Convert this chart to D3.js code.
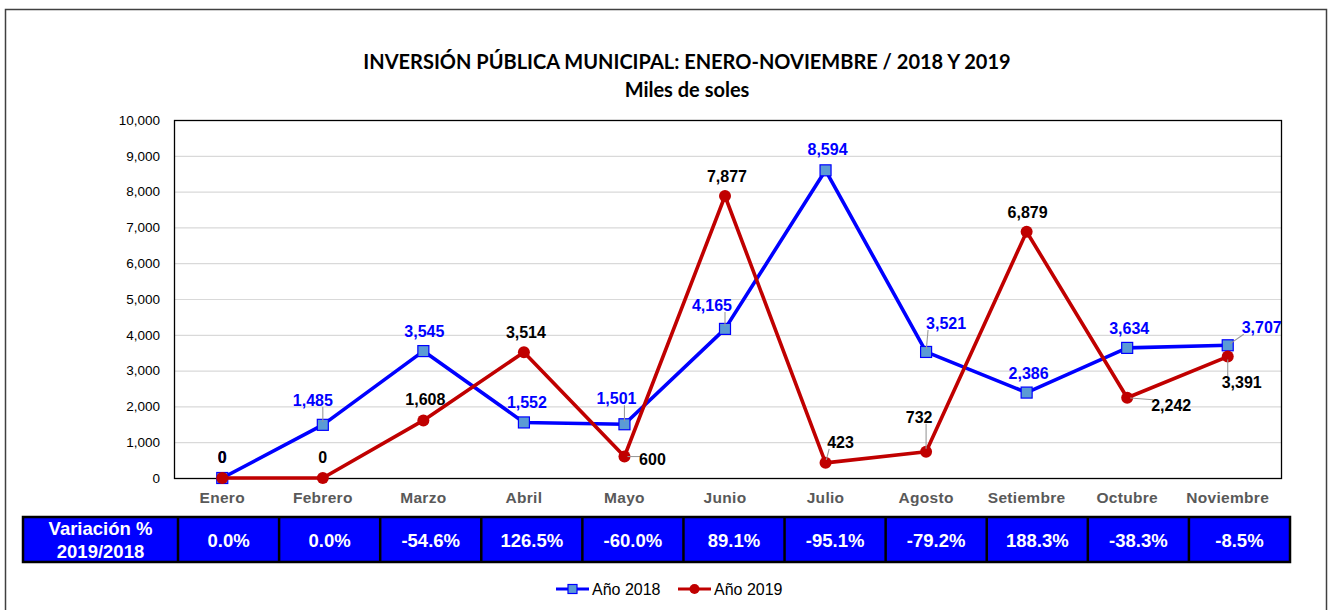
<!DOCTYPE html>
<html>
<head>
	<meta charset="UTF-8">
	<script src="https://d3js.org/d3.v7.min.js"></script>
	<title>Inversión pública municipal</title>
	<style>
		body { margin: 0; background: #fff; }
		svg { display: block; }
	</style>
</head>
<body>
	<svg></svg>
	<script type="text/javascript">

		const meses = ["Enero", "Febrero", "Marzo", "Abril", "Mayo", "Junio", "Julio", "Agosto", "Setiembre", "Octubre", "Noviembre"];
		const anio2018 = [0, 1485, 3545, 1552, 1501, 4165, 8594, 3521, 2386, 3634, 3707];
		const anio2019 = [0, 0, 1608, 3514, 600, 7877, 423, 732, 6879, 2242, 3391];
		const variacion = [0.0, 0.0, -54.6, 126.5, -60.0, 89.1, -95.1, -79.2, 188.3, -38.3, -8.5];
		const yTicks = [0, 1000, 2000, 3000, 4000, 5000, 6000, 7000, 8000, 9000, 10000];

		// label placement relative to its point: [dx, dy, leader line]
		const pos2018 = [[0, -15, 0], [-10, -19, 1], [1, -14, 0], [3, -14, 0], [-8, -20, 1], [-13, -18, 1],
			[2, -15, 0], [20, -23, 1], [2, -14, 0], [2, -14, 0], [34, -12, 1]];
		const pos2019 = [[0, -15, 0], [0, -15, 0], [2, -15, 0], [2, -14, 0], [28, 8, 1], [2, -14, 0],
			[15, -15, 1], [-7, -29, 1], [1, -14, 0], [44, 13, 1], [14, 31, 1]];

		const width = 1328;
		const height = 610;
		const plot = {left: 174, right: 1281, top: 120, bottom: 478};

		const azul = "#0000ff";
		const rojo = "#c00000";

		const svg = d3.select("svg")
			.attr("width", width)
			.attr("height", height)
			.attr("viewBox", [0, 0, width, height])
			.style("font-family", "'Liberation Sans', Arial, sans-serif");

		svg.append("rect")
			.attr("x", 5.5).attr("y", 9.5)
			.attr("width", 1321).attr("height", 640)
			.attr("fill", "none")
			.attr("stroke", "#404040")
			.attr("stroke-width", 1.5);

		svg.append("text")
			.attr("x", 687).attr("y", 69)
			.attr("text-anchor", "middle")
			.style("font-family", "Lato, sans-serif")
			.attr("font-weight", "bold")
			.attr("font-size", 20)
			.text("INVERSIÓN PÚBLICA MUNICIPAL: ENERO-NOVIEMBRE / 2018 Y 2019");

		svg.append("text")
			.attr("x", 687).attr("y", 97)
			.attr("text-anchor", "middle")
			.style("font-family", "Lato, sans-serif")
			.attr("font-weight", "bold")
			.attr("font-size", 20)
			.text("Miles de soles");

		const x = d3.scalePoint()
			.domain(meses)
			.range([plot.left - 2, plot.right - 3])
			.padding(0.5);

		const y = d3.scaleLinear()
			.domain([0, 10000])
			.range([plot.bottom, plot.top]);

		// grid
		svg.append("g")
			.selectAll("line")
			.data(yTicks.filter(d => d > 0 && d < 10000))
			.join("line")
				.attr("x1", plot.left).attr("x2", plot.right)
				.attr("y1", d => y(d) + 0.5).attr("y2", d => y(d) + 0.5)
				.attr("stroke", "#d9d9d9")
				.attr("stroke-width", 1.2);

		svg.append("rect")
			.attr("x", plot.left + 0.5).attr("y", plot.top + 0.5)
			.attr("width", plot.right - plot.left).attr("height", plot.bottom - plot.top)
			.attr("fill", "none")
			.attr("stroke", "#000")
			.attr("stroke-width", 1.3);

		svg.append("g")
			.attr("transform", `translate(${plot.left},0)`)
			.call(d3.axisLeft(y).tickValues(yTicks).tickFormat(d3.format(",")).tickSize(0).tickPadding(14))
			.call(g => g.select(".domain").remove())
			.call(g => g.selectAll("text")
				.attr("font-family", "'Liberation Sans', Arial, sans-serif")
				.attr("font-size", 13.5)
				.attr("fill", "#000"));

		svg.append("g")
			.selectAll("text")
			.data(meses)
			.join("text")
				.attr("x", d => x(d))
				.attr("y", 503)
				.attr("text-anchor", "middle")
				.attr("font-size", 15.5)
				.attr("font-weight", "bold")
				.attr("fill", "#595959")
				.attr("letter-spacing", 0.3)
				.text(d => d);

		const line = d3.line()
			.x((d, i) => x(meses[i]))
			.y(d => y(d));

		const series = [
			{name: "Año 2018", values: anio2018, color: azul, labelColor: azul, pos: pos2018, marker: "square"},
			{name: "Año 2019", values: anio2019, color: rojo, labelColor: "#000", pos: pos2019, marker: "circle"}
		];

		function drawMarker(g, s) {
			if (s.marker === "square") {
				g.append("rect")
					.attr("x", -5.5).attr("y", -5.5)
					.attr("width", 11).attr("height", 11)
					.attr("fill", "#5b9bd5")
					.attr("stroke", azul)
					.attr("stroke-width", 1.2);
			} else {
				g.append("circle")
					.attr("r", 6)
					.attr("fill", rojo);
			}
		}

		series.forEach(s => {
			const g = svg.append("g");
			g.append("path")
				.datum(s.values)
				.attr("fill", "none")
				.attr("stroke", s.color)
				.attr("stroke-width", 3.6)
				.attr("stroke-linejoin", "round")
				.attr("d", line);
			g.selectAll("g.mk")
				.data(s.values)
				.join("g")
					.attr("class", "mk")
					.attr("transform", (d, i) => `translate(${x(meses[i])},${y(d)})`)
					.each(function () { drawMarker(d3.select(this), s); });
		});

		// data labels with leader lines
		series.forEach(s => {
			const g = svg.append("g");
			s.values.forEach((v, i) => {
				const px = x(meses[i]);
				const py = y(v);
				const [dx, dy, lead] = s.pos[i];
				const t = g.append("text")
					.attr("x", px + dx)
					.attr("y", py + dy)
					.attr("text-anchor", "middle")
					.attr("font-size", 16)
					.attr("font-weight", "bold")
					.attr("fill", s.labelColor)
					.text(d3.format(",")(v));
				if (lead) {
					const b = t.node().getBBox();
					const bx = Math.max(b.x + 2, Math.min(px, b.x + b.width - 2));
					const by = Math.max(b.y + 3, Math.min(py, b.y + b.height - 2));
					const len = Math.hypot(bx - px, by - py);
					const sx = px + (bx - px) / len * 3;
					const sy = py + (by - py) / len * 3;
					g.insert("line", "text")
						.attr("x1", sx).attr("y1", sy)
						.attr("x2", bx).attr("y2", by)
						.attr("stroke", "#999")
						.attr("stroke-width", 1.1);
				}
			});
		});

		// variation table
		const tx = d3.scaleBand()
			.domain(meses)
			.range([178, 1290]);
		const tTop = 517;
		const tBottom = 562;

		const tabla = svg.append("g");
		tabla.append("rect")
			.attr("x", 23).attr("y", tTop)
			.attr("width", 1290 - 23).attr("height", tBottom - tTop)
			.attr("fill", azul)
			.attr("stroke", "#000")
			.attr("stroke-width", 2.5);

		tabla.selectAll("line")
			.data(meses)
			.join("line")
				.attr("x1", d => tx(d)).attr("x2", d => tx(d))
				.attr("y1", tTop).attr("y2", tBottom)
				.attr("stroke", "#000")
				.attr("stroke-width", 2.5);

		tabla.selectAll("text.val")
			.data(variacion)
			.join("text")
				.attr("class", "val")
				.attr("x", (d, i) => tx(meses[i]) + tx.bandwidth() / 2)
				.attr("y", 547)
				.attr("text-anchor", "middle")
				.attr("font-size", 18.5)
				.attr("font-weight", "bold")
				.attr("fill", "#fff")
				.text(d => d.toFixed(1) + "%");

		tabla.append("text")
			.attr("x", 100.5).attr("y", 535)
			.attr("text-anchor", "middle")
			.attr("font-size", 18.5)
			.attr("font-weight", "bold")
			.attr("fill", "#fff")
			.text("Variación %");
		tabla.append("text")
			.attr("x", 100.5).attr("y", 558)
			.attr("text-anchor", "middle")
			.attr("font-size", 18.5)
			.attr("font-weight", "bold")
			.attr("fill", "#fff")
			.text("2019/2018");

		// legend
		const leyenda = svg.append("g");
		const legX = [556, 678];
		series.forEach((s, i) => {
			const lg = leyenda.append("g")
				.attr("transform", `translate(${legX[i]},589)`);
			lg.append("line")
				.attr("x1", 0).attr("x2", 33)
				.attr("stroke", s.color)
				.attr("stroke-width", 3.2);
			const mk = lg.append("g").attr("transform", "translate(16.5,0)");
			drawMarker(mk, s);
			mk.select("rect").attr("x", -4.5).attr("y", -4.5).attr("width", 9).attr("height", 9);
			mk.select("circle").attr("r", 5);
			lg.append("text")
				.attr("x", 36).attr("y", 6)
				.attr("font-size", 16)
				.attr("fill", "#000")
				.text(s.name);
		});

	</script>
</body>
</html>
